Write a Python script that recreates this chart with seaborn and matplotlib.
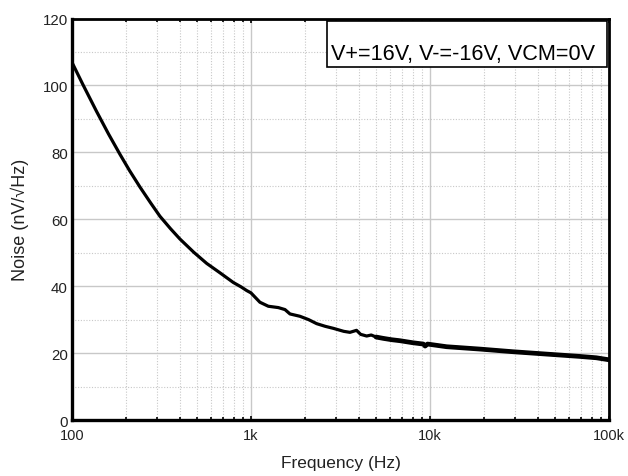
import matplotlib
matplotlib.use("Agg")
import matplotlib.pyplot as plt
from matplotlib.patches import Rectangle
from matplotlib.ticker import FixedLocator, NullFormatter, LogLocator
import seaborn as sns
import pandas as pd

# ---- data ----
freq_hz = [100, 115, 137, 160, 185, 210, 240, 275, 310, 355, 401, 480, 566, 671, 797,
           880, 946, 1000, 1122, 1250, 1422, 1550, 1652, 1878, 2100, 2328, 2600, 2884,
           3300, 3573, 3890, 4100, 4430, 4700, 5000, 5485, 6100, 6797, 8000, 9180,
           9400, 9700, 12400, 19000, 29200, 44800, 68900, 85000, 100000]
noise_nv = [106.9, 100.3, 92.3, 85.5, 79.5, 74.5, 69.6, 64.9, 60.9, 57.2, 54.1, 50.1, 46.8,
            44.0, 41.1, 39.8, 38.7, 38.0, 35.2, 34.0, 33.6, 33.0, 31.7, 31.0, 30.0, 28.8,
            28.0, 27.4, 26.5, 26.2, 26.8, 25.6, 25.1, 25.4, 24.8, 24.4, 24.0, 23.7, 23.1,
            22.7, 22.1, 22.7, 21.9, 21.2, 20.4, 19.7, 19.0, 18.6, 18.0]

x_ticks = [100, 1000, 10000, 100000]
x_tick_labels = ["100", "1k", "10k", "100k"]
y_ticks = [0, 20, 40, 60, 80, 100, 120]
legend_text = "V+=16V, V-=-16V, VCM=0V"

df = pd.DataFrame({"freq": freq_hz, "noise": noise_nv})

sns.set_theme(style="white")
plt.rcParams["font.family"] = ["Liberation Sans", "DejaVu Sans"]

fig = plt.figure(figsize=(6.28, 4.77), dpi=100)
ax = fig.add_axes([0.1146, 0.1174, 0.855, 0.8417])

sns.lineplot(data=df, x="freq", y="noise", ax=ax, color="black", lw=2.3,
             estimator=None, sort=False)
hf = df[df["freq"] >= 5000]
sns.lineplot(data=hf, x="freq", y="noise", ax=ax, color="black", lw=3.4,
             estimator=None, sort=False)

ax.set_xscale("log")
ax.set_xlim(100, 100000)
ax.set_ylim(0, 120)

ax.xaxis.set_major_locator(FixedLocator(x_ticks))
ax.set_xticklabels(x_tick_labels)
ax.xaxis.set_minor_locator(LogLocator(base=10, subs=range(2, 10)))
ax.xaxis.set_minor_formatter(NullFormatter())
ax.set_yticks(y_ticks)
ax.yaxis.set_minor_locator(FixedLocator([10, 30, 50, 70, 90, 110]))

ax.grid(which="major", color="#c8c8c8", lw=1.0, ls="-")
ax.grid(which="minor", color="#c8c8c8", lw=0.8, ls=(0, (1, 1.5)))
ax.set_axisbelow(True)

for s in ax.spines.values():
    s.set_color("black")
    s.set_linewidth(2.0)
ax.spines["left"].set_linewidth(2.4)
ax.spines["bottom"].set_linewidth(2.4)

ax.tick_params(axis="x", which="both", direction="in", bottom=True, top=True,
               length=3, width=1.2, color="black", labelsize=10.5, pad=6,
               labelcolor="#222222")
ax.tick_params(axis="x", which="minor", length=2.5)
ax.tick_params(axis="y", which="both", left=False, right=False, labelsize=10.8,
               pad=3, length=0, labelcolor="#222222")

ax.set_xlabel("Frequency (Hz)", fontsize=12.5, color="#222222", labelpad=9)
ax.set_ylabel("Noise (nV/\u221aHz)", fontsize=13, color="#222222", labelpad=10)

ax.add_patch(Rectangle((0.475, 0.8785), 0.522, 0.116, transform=ax.transAxes,
                       facecolor="white", edgecolor="black", lw=1.2, zorder=5))
ax.text(0.729, 0.899, legend_text, transform=ax.transAxes, ha="center",
        va="baseline", fontsize=15.6, color="black", zorder=6)

fig.savefig("out.png", dpi=100)
